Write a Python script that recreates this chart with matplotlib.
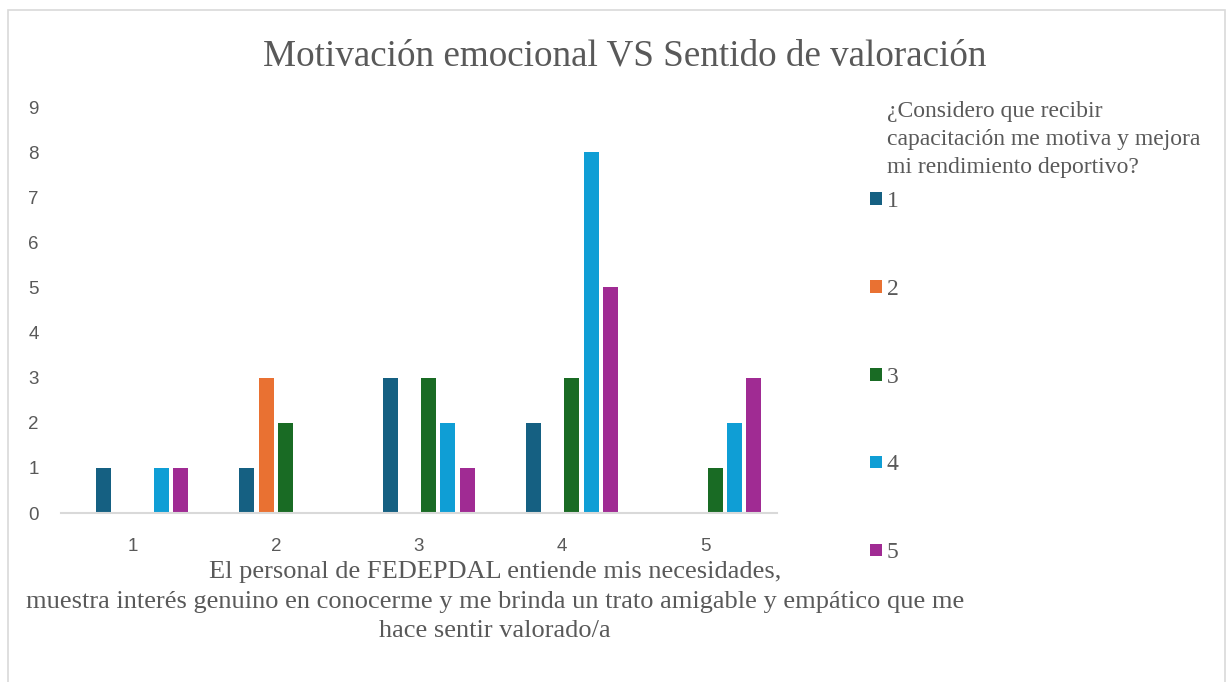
import numpy as np
import matplotlib
matplotlib.use('Agg')
import matplotlib.pyplot as plt
from matplotlib.patches import Rectangle

# Data
categories = ['1', '2', '3', '4', '5']
series_names = ['1', '2', '3', '4', '5']
serie_1 = [1, 1, 3, 2, 0]
serie_2 = [0, 3, 0, 0, 0]
serie_3 = [0, 2, 3, 3, 1]
serie_4 = [1, 0, 2, 8, 2]
serie_5 = [1, 0, 1, 5, 3]
colors = ['#156082', '#E97132', '#196B24', '#0F9ED5', '#A02B93']

title = 'Motivación emocional VS Sentido de valoración'
legend_title = '¿Considero que recibir\ncapacitación me motiva y mejora\nmi rendimiento deportivo?'
x_title_lines = ['El personal de FEDEPDAL entiende mis necesidades,',
                 'muestra interés genuino en conocerme y me brinda un trato amigable y empático que me',
                 'hace sentir valorado/a']

serif = 'Liberation Serif'
sans = 'Liberation Sans'
grey = '#595959'

fig = plt.figure(figsize=(12.27, 6.82), dpi=100)
ax = fig.add_axes([61 / 1227, 1 - 513 / 682, 716 / 1227, 406 / 682])

# Light border around the whole chart
fig.patches.append(Rectangle((8 / 1227, -0.01), 1217 / 1227, 1 - 10 / 682 + 0.01,
                             transform=fig.transFigure, fill=False,
                             edgecolor='#d9d9d9', linewidth=1.2))

# Grouped bars (an empty first slot in every group, as in the original)
x = np.arange(len(categories))
step = 0.1344
width = 0.105
all_series = [serie_1, serie_2, serie_3, serie_4, serie_5]
handles = []
for i, values in enumerate(all_series):
    offset = (i + 1 - 2.5) * step
    b = ax.bar(x + offset, values, width, color=colors[i], label=series_names[i])
    handles.append(b)

ax.set_xlim(-0.5, len(categories) - 0.5)
ax.set_ylim(0, 9)
ax.set_yticks(range(0, 10))
ax.set_xticks(x)
ax.set_xticklabels(categories)

for side in ['top', 'right', 'left']:
    ax.spines[side].set_visible(False)
ax.spines['bottom'].set_color('#d9d9d9')
ax.spines['bottom'].set_linewidth(1.5)
ax.tick_params(axis='both', length=0, labelsize=13.5, labelcolor=grey)
ax.tick_params(axis='x', pad=18)
ax.tick_params(axis='y', pad=16)
for lab in ax.get_xticklabels() + ax.get_yticklabels():
    lab.set_fontfamily(sans)

# Title
fig.text(625 / 1227, 1 - 56 / 682, title, ha='center', va='center',
         fontsize=26.7, color=grey, family=serif)

# Axis title, one centred line at a time
baselines = [578, 608, 637]
for line, yb in zip(x_title_lines, baselines):
    fig.text(495 / 1227, 1 - yb / 682, line, ha='center', va='baseline',
             fontsize=19, color=grey, family=serif)

# Legend on the right: title as text, entries as a legend
fig.text(887 / 1227, 1 - 101 / 682, legend_title, ha='left', va='top',
         fontsize=17, color=grey, family=serif, linespacing=1.45)
leg = ax.legend(handles=handles, labels=series_names,
                loc='upper left', bbox_to_anchor=(870 / 1227, 1 - 191 / 682),
                bbox_transform=fig.transFigure, frameon=False,
                prop={'family': serif, 'size': 17},
                handlelength=0.5, handleheight=0.45, handletextpad=0.2,
                labelspacing=2.83, borderpad=0, borderaxespad=0)
for t in leg.get_texts():
    t.set_color(grey)

fig.savefig('out.png', dpi=100)
